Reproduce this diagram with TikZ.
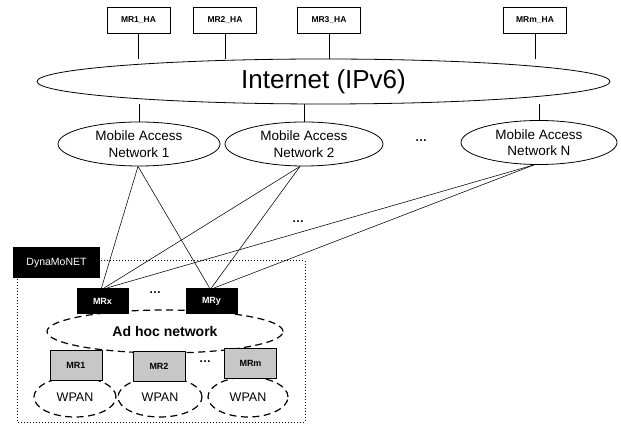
\documentclass[tikz,border=0pt]{standalone}
\usepackage{fontspec}
\setmainfont{Liberation Sans}
\usetikzlibrary{shapes.geometric}
\begin{document}
\begin{tikzpicture}[x=1pt,y=-1pt,
  habox/.style={draw,line width=0.7pt,minimum width=63pt,minimum height=26pt,font=\fontsize{8.5}{9}\selectfont\bfseries,inner sep=0pt},
  cloud/.style={draw,ellipse,line width=0.8pt,inner sep=0pt},
  mancloud/.style={cloud,minimum width=160pt,minimum height=44pt,align=center,font=\fontsize{13.5}{16.5}\selectfont},
  mrblack/.style={fill=black,text=white,minimum width=52pt,minimum height=26pt,font=\fontsize{9}{10}\selectfont\bfseries,inner sep=0pt},
  mrgrey/.style={draw,line width=0.5pt,fill=black!22,minimum width=52pt,minimum height=30pt,font=\fontsize{9}{10}\selectfont\bfseries,inner sep=0pt},
  dashcloud/.style={draw,ellipse,line width=1.2pt,dash pattern=on 7pt off 4.5pt,inner sep=0pt},
  wpan/.style={dashcloud,minimum width=82pt,minimum height=40pt,font=\fontsize{12.5}{13}\selectfont},
  link/.style={line width=0.55pt},
  dotsfont/.style={font=\fontsize{12}{13}\selectfont\bfseries}]
\useasboundingbox (0,0) rectangle (621,427);

% home agents
\node[habox] (ha1) at (138.5,20) {MR1\_HA};
\node[habox] (ha2) at (225,20) {MR2\_HA};
\node[habox] (ha3) at (329,20) {MR3\_HA};
\node[habox] (ham) at (535,20) {MRm\_HA};

% Internet core
\node[cloud,minimum width=573pt,minimum height=45pt,font=\fontsize{26}{28}\selectfont] (inet) at (323.5,81.5) {Internet (IPv6)};

\foreach \h in {ha1,ha2,ha3,ham}
  \draw[link] (\h.south) -- (\h.south |- inet.north);

% access networks
\node[mancloud,minimum width=162pt] (man1) at (139,144) {Mobile Access\\Network 1};
\node[mancloud,minimum width=158pt] (man2) at (304,144) {Mobile Access\\Network 2};
\node[mancloud,minimum width=156pt] (mann) at (539,142.5) {Mobile Access\\Network N};
\node[dotsfont] (dots1) at (421,141) {\dots};

\draw[link] (inet.south -| man1) -- (man1.north);
\draw[link] (inet.south -| man2) -- (man2.north);
\draw[link] (inet.south -| mann) -- (mann.north);

% DynaMoNET domain
\draw[line width=1pt,dotted] (17,261) rectangle (305,422);
\node[fill=black,text=white,minimum width=87pt,minimum height=31pt,font=\fontsize{10.5}{11}\selectfont,inner sep=0pt] (dyn) at (56.5,262.5) {DynaMoNET};

% mobile routers
\node[mrblack] (mrx) at (102.5,301) {MRx};
\node[mrblack] (mry) at (211.5,301) {MRy};
\node[dotsfont] at (155,293) {\dots};

\node[dashcloud,minimum width=236pt,minimum height=43pt,font=\fontsize{14}{15}\selectfont\bfseries] (adhoc) at (165,331.5) {Ad hoc network};

\node[wpan] (w1) at (75,397) {WPAN};
\node[wpan,minimum width=84pt] (w2) at (160,397) {WPAN};
\node[wpan,minimum width=80pt] (w3) at (248,397) {WPAN};

\node[mrgrey] (mr1) at (76,365) {MR1};
\node[mrgrey] (mr2) at (159,366) {MR2};
\node[mrgrey] (mrm) at (250.5,363.5) {MRm};
\node[dotsfont] at (205,362) {\dots};

% uplinks from the access networks
\coordinate (x1) at ([xshift=-1pt]mrx.north);
\coordinate (x2) at ([xshift=2pt]mrx.north);
\coordinate (x3) at ([xshift=5pt]mrx.north);
\coordinate (y1) at ([xshift=-2pt]mry.north);
\coordinate (y2) at ([xshift=0pt]mry.north);
\coordinate (y3) at ([xshift=3pt]mry.north);
\coordinate (n1) at ([xshift=-1pt]man1.south);
\coordinate (n2) at ([xshift=-4pt]man2.south);
\coordinate (nn) at ([xshift=-5pt]mann.south);
\draw[link] (n1) -- (x1);
\draw[link] (n1) -- (y1);
\draw[link] (n2) -- (x2);
\draw[link] (n2) -- (y2);
\draw[link] (nn) -- (x3);
\draw[link] (nn) -- (y3);
\node[dotsfont] at (298,222) {\dots};
\end{tikzpicture}
\end{document}
